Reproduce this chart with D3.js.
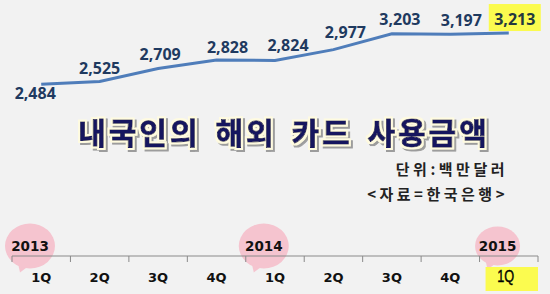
<!DOCTYPE html>
<html>
<head>
<meta charset="utf-8">
<script src="https://cdn.jsdelivr.net/npm/d3@7"></script>
<style>
  html, body { margin: 0; padding: 0; background: #f2f2f2; }
  svg { display: block; }
</style>
</head>
<body>
<div id="chart"></div>
<script>
// data
const periods = ['2013 1Q', '2013 2Q', '2013 3Q', '2013 4Q', '2014 1Q', '2014 2Q', '2014 3Q', '2014 4Q', '2015 1Q'];
const quarterLabels = ['1Q', '2Q', '3Q', '4Q', '1Q', '2Q', '3Q', '4Q', '1Q'];
const values = [2484, 2525, 2709, 2828, 2824, 2977, 3203, 3197, 3213];
const years = ['2013', '2014', '2015'];
const yearStarts = ['2013 1Q', '2014 1Q', '2015 1Q'];
const title = '내국인의 해외 카드 사용금액';
const unitText = '단위:백만달러';
const sourceText = '<자료=한국은행>';

const width = 550, height = 294;
const axisY = 256;

// label nudges (hand placed in the original)
const labelDx = [-6, 0, 2, 11, 13, 12, 8, 11, 6];
const labelDy = [15, -7, -8, -7, -9, -12, -9, -8, -8];

const svg = d3.select('#chart').append('svg')
    .attr('width', width)
    .attr('height', height);

// title effect: cream outline + grey drop shadow
const defs = svg.append('defs');
const fx = defs.append('filter')
    .attr('id', 'title-fx')
    .attr('x', '-5%').attr('y', '-30%')
    .attr('width', '110%').attr('height', '170%');
fx.append('feMorphology')
    .attr('in', 'SourceAlpha').attr('operator', 'dilate').attr('radius', 1.8).attr('result', 'fat');
fx.append('feFlood').attr('flood-color', '#fffbe0').attr('result', 'cream');
fx.append('feComposite').attr('in', 'cream').attr('in2', 'fat').attr('operator', 'in').attr('result', 'outline');
fx.append('feOffset').attr('in', 'fat').attr('dx', 2).attr('dy', 2).attr('result', 'off');
fx.append('feGaussianBlur').attr('in', 'off').attr('stdDeviation', 0.6).attr('result', 'offb');
fx.append('feFlood').attr('flood-color', '#9c9c9c').attr('result', 'grey');
fx.append('feComposite').attr('in', 'grey').attr('in2', 'offb').attr('operator', 'in').attr('result', 'shadow');
const merge = fx.append('feMerge');
merge.append('feMergeNode').attr('in', 'shadow');
merge.append('feMergeNode').attr('in', 'outline');
merge.append('feMergeNode').attr('in', 'SourceGraphic');

svg.append('rect')
    .attr('width', width)
    .attr('height', height)
    .attr('fill', '#f2f2f2');

const x = d3.scaleBand()
    .domain(periods)
    .range([12, 538]);

const y = d3.scaleLinear()
    .domain([2400, 3300])
    .range([90.2, 26.9]);

const cx = d => x(d) + x.bandwidth() / 2;

// year bubbles
const bubbleG = svg.append('g');
yearStarts.forEach((p, i) => {
    const bx = x(p) + 18;
    const by = 246;
    const rx = i === 2 ? 22.5 : 25, ry = i === 2 ? 19.5 : 22.5;
    bubbleG.append('path')
        .attr('d', `M${bx - 12},${by + ry - 5} L${bx - 10},${by + ry + 4} L${bx - 2},${by + ry - 2} Z`)
        .attr('fill', '#f5c4cf');
    bubbleG.append('ellipse')
        .attr('cx', bx)
        .attr('cy', by)
        .attr('rx', rx)
        .attr('ry', ry)
        .attr('fill', '#f5c4cf');
    bubbleG.append('text')
        .attr('x', bx)
        .attr('y', 251)
        .attr('text-anchor', 'middle')
        .attr('font-family', 'DejaVu Sans')
        .attr('font-weight', 'bold')
        .attr('font-size', 13.5)
        .attr('fill', '#111')
        .text(years[i]);
});

// highlight box behind last quarter label
const lastP = periods[periods.length - 1];
svg.append('rect')
    .attr('x', x(lastP) + 6)
    .attr('y', 267)
    .attr('width', x.bandwidth() - 6)
    .attr('height', 24)
    .attr('fill', '#fbfb4f');

// x axis
const axisG = svg.append('g')
    .attr('transform', `translate(0,${axisY})`);

axisG.call(d3.axisBottom(x).tickSize(0).tickFormat((d, i) => quarterLabels[i]))
    .call(g => g.select('.domain')
        .attr('d', `M${x.range()[0]},0H${x.range()[1]}`)
        .attr('stroke', '#8a8a8a'))
    .call(g => g.selectAll('.tick text')
        .attr('y', 26)
        .attr('dy', null)
        .attr('font-family', 'DejaVu Sans')
        .attr('font-weight', 'bold')
        .attr('font-size', 13)
        .attr('fill', '#111'));

// last quarter label styled differently
axisG.selectAll('.tick text')
    .filter(d => d === lastP)
    .attr('x', -3)
    .attr('y', 26)
    .attr('font-family', 'Liberation Sans')
    .attr('font-weight', 'normal')
    .attr('font-size', 17)
    .attr('textLength', 17)
    .attr('lengthAdjust', 'spacingAndGlyphs')
    .attr('stroke', '#000')
    .attr('stroke-width', 0.4)
    .attr('fill', '#000');

// boundary ticks
const bounds = periods.map(p => x(p)).concat([x.range()[1]]);
axisG.selectAll('.bound')
    .data(bounds)
    .enter()
    .append('line')
    .attr('class', 'bound')
    .attr('x1', d => d)
    .attr('x2', d => d)
    .attr('y1', 0)
    .attr('y2', 6)
    .attr('stroke', '#8a8a8a');

// line
const line = d3.line()
    .x((d, i) => cx(periods[i]))
    .y(d => y(d));

svg.append('path')
    .datum(values)
    .attr('d', line)
    .attr('fill', 'none')
    .attr('stroke', '#4f7dba')
    .attr('stroke-width', 3);

// last value highlight
const lastI = values.length - 1;
svg.append('rect')
    .attr('x', cx(lastP) + labelDx[lastI] - 26)
    .attr('y', y(values[lastI]) + labelDy[lastI] - 21)
    .attr('width', 52)
    .attr('height', 27)
    .attr('fill', '#fbfb4f');

svg.selectAll('.val')
    .data(values)
    .enter()
    .append('text')
    .attr('class', 'val')
    .attr('x', (d, i) => cx(periods[i]) + labelDx[i])
    .attr('y', (d, i) => y(d) + labelDy[i])
    .attr('text-anchor', 'middle')
    .attr('font-family', 'Noto Sans')
    .attr('font-weight', 'bold')
    .attr('font-size', 16)
    .attr('fill', (d, i) => i === lastI ? '#24383f' : '#1f3a60')
    .text(d => d3.format(',')(d));

// title
svg.append('text')
    .attr('x', 284)
    .attr('y', 144)
    .attr('text-anchor', 'middle')
    .attr('font-family', 'Noto Sans CJK KR')
    .attr('font-weight', 'bold')
    .attr('font-size', 30)
    .attr('letter-spacing', 3)
    .attr('word-spacing', 5)
    .attr('fill', '#14145e')
    .attr('stroke', '#14145e')
    .attr('stroke-width', 0.9)
    .attr('filter', 'url(#title-fx)')
    .text(title);

// unit and source notes
const noteStyle = sel => sel
    .attr('text-anchor', 'end')
    .attr('font-family', 'Noto Sans CJK KR')
    .attr('font-weight', 'bold')
    .attr('font-size', 15)
    .attr('letter-spacing', 3.5)
    .attr('fill', '#222');

svg.append('text')
    .attr('x', 508)
    .attr('y', 175)
    .call(noteStyle)
    .text(unitText);

svg.append('text')
    .attr('x', 508)
    .attr('y', 200)
    .call(noteStyle)
    .text(sourceText);
</script>
</body>
</html>
